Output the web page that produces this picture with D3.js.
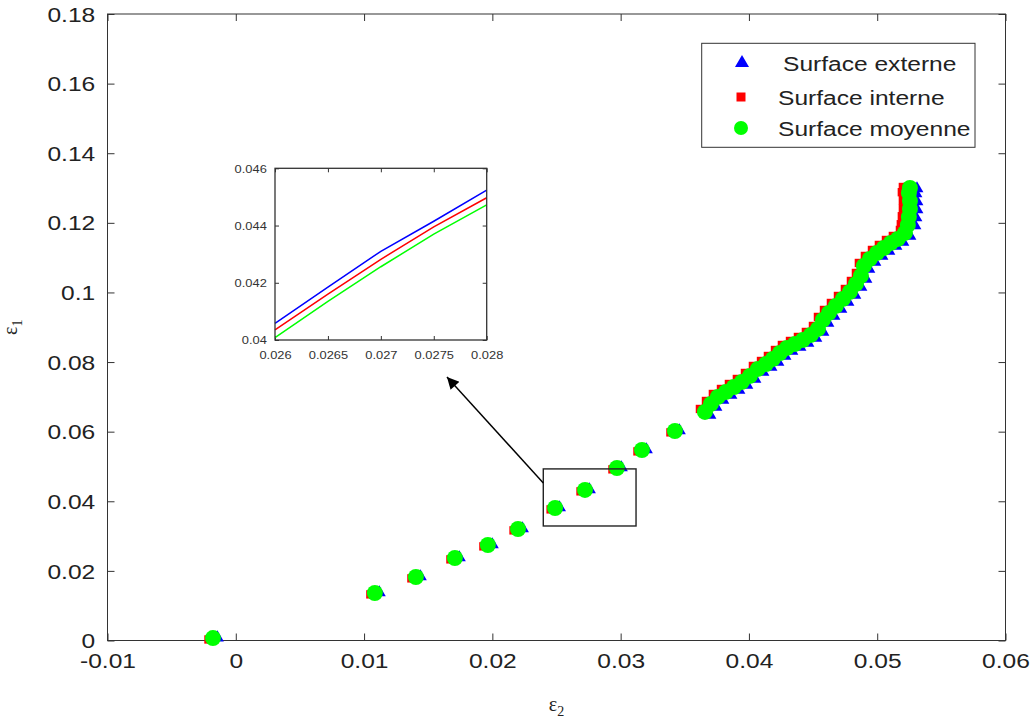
<!DOCTYPE html>
<html><head><meta charset="utf-8">
<script src="https://cdn.jsdelivr.net/npm/d3@7"></script>
<style>body{margin:0;background:#fff} svg{display:block}</style>
</head><body><svg id="c" width="1033" height="722"></svg>
<script>
// ---------- DATA ----------
const xTicks = [-0.01, 0, 0.01, 0.02, 0.03, 0.04, 0.05, 0.06];
const xTickLabels = ["-0.01", "0", "0.01", "0.02", "0.03", "0.04", "0.05", "0.06"];
const yTicks = [0, 0.02, 0.04, 0.06, 0.08, 0.10, 0.12, 0.14, 0.16, 0.18];
const yTickLabels = ["0", "0.02", "0.04", "0.06", "0.08", "0.1", "0.12", "0.14", "0.16", "0.18"];
const seriesNames = ["Surface externe", "Surface interne", "Surface moyenne"];
const seriesColors = ["#0000ff", "#ff0000", "#00ff00"];

// Surface externe (blue triangles) [eps2, eps1]
const externe = [
  [-0.00143,0.0008],[0.01119,0.01375],[0.01439,0.01835],[0.01743,0.02381],[0.02000,0.02754],
  [0.02235,0.03214],[0.02524,0.03817],[0.02757,0.04335],[0.03006,0.04967],[0.03201,0.05484],[0.03458,0.06030],
  [0.03696,0.06480],[0.03743,0.06710],[0.03797,0.06911],[0.03860,0.07055],[0.03922,0.07198],[0.03984,0.07342],
  [0.04047,0.07515],[0.04109,0.07716],[0.04172,0.07859],[0.04226,0.08003],[0.04281,0.08175],[0.04335,0.08319],
  [0.04398,0.08434],[0.04460,0.08549],[0.04522,0.08693],[0.04577,0.08865],[0.04616,0.09124],[0.04663,0.09325],
  [0.04717,0.09526],[0.04772,0.09727],[0.04826,0.09928],[0.04873,0.10158],[0.04912,0.10388],[0.04935,0.10675],
  [0.04982,0.10877],[0.05037,0.11049],[0.05091,0.11193],[0.05146,0.11336],[0.05200,0.11451],[0.05255,0.11624],
  [0.05294,0.11920],[0.05302,0.12150],[0.05310,0.12379],[0.05310,0.12609],[0.05302,0.12839],[0.05310,0.12983]
];
// Surface interne (red squares)
const interne = [
  [-0.00213,0.0003],[0.01049,0.01325],[0.01369,0.01785],[0.01673,0.02331],[0.01930,0.02704],
  [0.02165,0.03164],[0.02454,0.03767],[0.02687,0.04285],[0.02936,0.04917],[0.03131,0.05434],[0.03388,0.05980],
  [0.03618,0.06652],[0.03665,0.06882],[0.03719,0.07083],[0.03782,0.07227],[0.03844,0.07370],[0.03906,0.07514],
  [0.03969,0.07687],[0.04031,0.07888],[0.04094,0.08031],[0.04148,0.08175],[0.04203,0.08347],[0.04257,0.08491],
  [0.04320,0.08606],[0.04382,0.08721],[0.04444,0.08865],[0.04499,0.09037],[0.04538,0.09296],[0.04585,0.09497],
  [0.04639,0.09698],[0.04694,0.09899],[0.04748,0.10100],[0.04795,0.10330],[0.04834,0.10560],[0.04857,0.10847],
  [0.04904,0.11049],[0.04959,0.11221],[0.05013,0.11365],[0.05068,0.11508],[0.05122,0.11623],[0.05177,0.11796],
  [0.05184,0.11960],[0.05192,0.12190],[0.05200,0.12420],[0.05200,0.12650],[0.05192,0.12880],[0.05200,0.13030]
];
// Surface moyenne (green circles)
const moyenne = [
  [-0.00178,0.0007],[0.01084,0.01365],[0.01404,0.01825],[0.01708,0.02371],[0.01965,0.02744],
  [0.02200,0.03204],[0.02489,0.03807],[0.02722,0.04325],[0.02971,0.04957],[0.03166,0.05474],[0.03423,0.06020],
  [0.03657,0.06566],[0.03704,0.06796],[0.03758,0.06997],[0.03821,0.07141],[0.03883,0.07284],[0.03945,0.07428],
  [0.04008,0.07601],[0.04070,0.07802],[0.04133,0.07945],[0.04187,0.08089],[0.04242,0.08261],[0.04296,0.08405],
  [0.04359,0.08520],[0.04421,0.08635],[0.04483,0.08779],[0.04538,0.08951],[0.04577,0.09210],[0.04624,0.09411],
  [0.04678,0.09612],[0.04733,0.09813],[0.04787,0.10014],[0.04834,0.10244],[0.04873,0.10474],[0.04896,0.10761],
  [0.04943,0.10963],[0.04998,0.11135],[0.05052,0.11279],[0.05107,0.11422],[0.05161,0.11537],[0.05216,0.11710],
  [0.05239,0.11940],[0.05247,0.12170],[0.05255,0.12399],[0.05255,0.12629],[0.05247,0.12859],[0.05255,0.13003]
];

// Inset (zoom) data
const insetXTicks = [0.026, 0.0265, 0.027, 0.0275, 0.028];
const insetXTickLabels = ["0.026", "0.0265", "0.027", "0.0275", "0.028"];
const insetYTicks = [0.040, 0.042, 0.044, 0.046];
const insetYTickLabels = ["0.04", "0.042", "0.044", "0.046"];
const insetX = [0.026, 0.0265, 0.027, 0.0275, 0.028];
const insetExterne = [0.04058, 0.04185, 0.04310, 0.04415, 0.04524];
const insetInterne = [0.04035, 0.04160, 0.04282, 0.04395, 0.04497];
const insetMoyenne = [0.04008, 0.04135, 0.04256, 0.04370, 0.04472];

// Zoom box (data coords) and arrow
const zoomBox = {x0: 0.02397, x1: 0.0312, y0: 0.0329, y1: 0.0493};
const arrowFrom = [0.02397, 0.04526];
const arrowTo = [0.01646, 0.07572];

// ---------- DRAW ----------
const svg = d3.select('#c');
const SX = 1.17;
const FONT = "'Liberation Sans', Arial, Helvetica, sans-serif";
const AX = '#333';

const x = d3.scaleLinear().domain([-0.01, 0.06]).range([107.5, 1005.5]);
const y = d3.scaleLinear().domain([0, 0.18]).range([640.5, 14]);
const [L, R] = x.range(), [B, T] = y.range();

svg.append('rect').attr('width', 1033).attr('height', 722).attr('fill', '#fff');

// axes
const gb = svg.append('g').attr('transform', `translate(0,${B})`)
  .call(d3.axisBottom(x).tickValues(xTicks).tickSizeInner(-7).tickSizeOuter(0).tickFormat((d, i) => xTickLabels[i]));
gb.selectAll('text').attr('y', 28).attr('dy', null)
  .attr('transform', `scale(${SX},1)`).style('font-family', FONT).style('font-size', '21px').attr('fill', '#222');
const gt = svg.append('g').attr('transform', `translate(0,${T})`)
  .call(d3.axisTop(x).tickValues(xTicks).tickSizeInner(-7).tickSizeOuter(0).tickFormat(''));
const gl = svg.append('g').attr('transform', `translate(${L},0)`)
  .call(d3.axisLeft(y).tickValues(yTicks).tickSizeInner(-7).tickSizeOuter(0).tickFormat((d, i) => yTickLabels[i]));
gl.selectAll('text').attr('x', -10.5).attr('dy', '0.34em')
  .attr('transform', `scale(${SX},1)`).style('font-family', FONT).style('font-size', '21px').attr('fill', '#222');
const gr = svg.append('g').attr('transform', `translate(${R},0)`)
  .call(d3.axisRight(y).tickValues(yTicks).tickSizeInner(-7).tickSizeOuter(0).tickFormat(''));
[gb, gt, gl, gr].forEach(g => { g.select('.domain').remove(); g.selectAll('line').attr('stroke', AX); });
svg.append('rect').attr('x', L).attr('y', T).attr('width', R - L).attr('height', B - T)
  .attr('fill', 'none').attr('stroke', AX).attr('stroke-width', 1);

// axis labels
const xl = svg.append('text').attr('x', (L + R) / 2).attr('y', 711).attr('text-anchor', 'middle')
  .style('font-family', "'Liberation Serif', 'Times New Roman', serif").style('font-size', '20px').attr('fill', '#222');
xl.append('tspan').text('ε');
xl.append('tspan').attr('dy', 5).style('font-size', '14px').text('2');
const yl = svg.append('text').attr('transform', `translate(17,${(T + B) / 2}) rotate(-90)`).attr('text-anchor', 'middle')
  .style('font-family', "'Liberation Serif', 'Times New Roman', serif").style('font-size', '20px').attr('fill', '#222');
yl.append('tspan').text('ε');
yl.append('tspan').attr('dy', 5).style('font-size', '14px').text('1');

// scatter
const plot = svg.append('g');
const triSym = d3.symbol().type(d3.symbolTriangle).size(72);
const sqSym = d3.symbol().type(d3.symbolSquare).size(70);
plot.selectAll('path.ext').data(externe).join('path').attr('class', 'ext')
  .attr('transform', d => `translate(${x(d[0])},${y(d[1])})`).attr('d', triSym).attr('fill', seriesColors[0]);
plot.selectAll('path.int').data(interne).join('path').attr('class', 'int')
  .attr('transform', d => `translate(${x(d[0])},${y(d[1])})`).attr('d', sqSym).attr('fill', seriesColors[1]);
plot.selectAll('circle.moy').data(moyenne).join('circle').attr('class', 'moy')
  .attr('cx', d => x(d[0])).attr('cy', d => y(d[1])).attr('r', 8).attr('fill', seriesColors[2]);

// zoom box
svg.append('rect').attr('x', x(zoomBox.x0)).attr('y', y(zoomBox.y1))
  .attr('width', x(zoomBox.x1) - x(zoomBox.x0)).attr('height', y(zoomBox.y0) - y(zoomBox.y1))
  .attr('fill', 'none').attr('stroke', '#222').attr('stroke-width', 1.4);

// arrow
svg.append('defs').append('marker').attr('id', 'ah').attr('viewBox', '0 0 10 10')
  .attr('refX', 10).attr('refY', 5).attr('markerWidth', 18).attr('markerHeight', 12)
  .attr('markerUnits', 'userSpaceOnUse').attr('orient', 'auto')
  .append('path').attr('d', 'M0,0 L10,5 L0,10 z').attr('fill', '#000');
svg.append('line').attr('x1', x(arrowFrom[0])).attr('y1', y(arrowFrom[1]))
  .attr('x2', x(arrowTo[0])).attr('y2', y(arrowTo[1]))
  .attr('stroke', '#000').attr('stroke-width', 1.4).attr('marker-end', 'url(#ah)');

// inset
const ix = d3.scaleLinear().domain([0.026, 0.028]).range([275, 486.7]);
const iy = d3.scaleLinear().domain([0.040, 0.046]).range([340, 168.3]);
const ins = svg.append('g');
ins.append('rect').attr('x', 275).attr('y', 168.3).attr('width', 211.7).attr('height', 171.7).attr('fill', '#fff');
const ib = ins.append('g').attr('transform', 'translate(0,340)')
  .call(d3.axisBottom(ix).tickValues(insetXTicks).tickSizeInner(-4).tickSizeOuter(0).tickFormat((d, i) => insetXTickLabels[i]));
ib.selectAll('text').attr('y', 19).attr('dy', null).attr('transform', `scale(${SX},1)`)
  .style('font-family', FONT).style('font-size', '11px').attr('fill', '#333');
const it = ins.append('g').attr('transform', 'translate(0,168.3)')
  .call(d3.axisTop(ix).tickValues(insetXTicks).tickSizeInner(-4).tickSizeOuter(0).tickFormat(''));
const il = ins.append('g').attr('transform', 'translate(275,0)')
  .call(d3.axisLeft(iy).tickValues(insetYTicks).tickSizeInner(-4).tickSizeOuter(0).tickFormat((d, i) => insetYTickLabels[i]));
il.selectAll('text').attr('x', -7).attr('dy', '0.36em').attr('transform', `scale(${SX},1)`)
  .style('font-family', FONT).style('font-size', '11px').attr('fill', '#333');
const ir = ins.append('g').attr('transform', 'translate(486.7,0)')
  .call(d3.axisRight(iy).tickValues(insetYTicks).tickSizeInner(-4).tickSizeOuter(0).tickFormat(''));
[ib, it, il, ir].forEach(g => { g.select('.domain').remove(); g.selectAll('line').attr('stroke', AX); });
const iline = d3.line().x((d, i) => ix(insetX[i])).y(d => iy(d));
[[insetExterne, seriesColors[0]], [insetInterne, seriesColors[1]], [insetMoyenne, seriesColors[2]]].forEach(([arr, c]) => {
  ins.append('path').attr('d', iline(arr)).attr('fill', 'none').attr('stroke', c).attr('stroke-width', 1.5);
});
ins.append('rect').attr('x', 275).attr('y', 168.3).attr('width', 211.7).attr('height', 171.7)
  .attr('fill', 'none').attr('stroke', '#333').attr('stroke-width', 1.3);

// legend
const lg = svg.append('g');
lg.append('rect').attr('x', 701.7).attr('y', 43.3).attr('width', 273.3).attr('height', 104)
  .attr('fill', '#fff').attr('stroke', '#333').attr('stroke-width', 1);
const legY = [63, 97, 128];
const legTextX = [783, 778, 778];
lg.append('path').attr('transform', `translate(742,${legY[0]})`).attr('d', d3.symbol().type(d3.symbolTriangle).size(85)).attr('fill', seriesColors[0]);
lg.append('path').attr('transform', `translate(741,${legY[1]})`).attr('d', d3.symbol().type(d3.symbolSquare).size(81)).attr('fill', seriesColors[1]);
lg.append('circle').attr('cx', 741).attr('cy', legY[2]).attr('r', 7).attr('fill', seriesColors[2]);
seriesNames.forEach((n, i) => {
  lg.append('text').attr('transform', `translate(${legTextX[i]},${legY[i] + 7.5}) scale(${SX},1)`)
    .style('font-family', FONT).style('font-size', '21px').attr('fill', '#222').text(n);
});
</script></body></html>
